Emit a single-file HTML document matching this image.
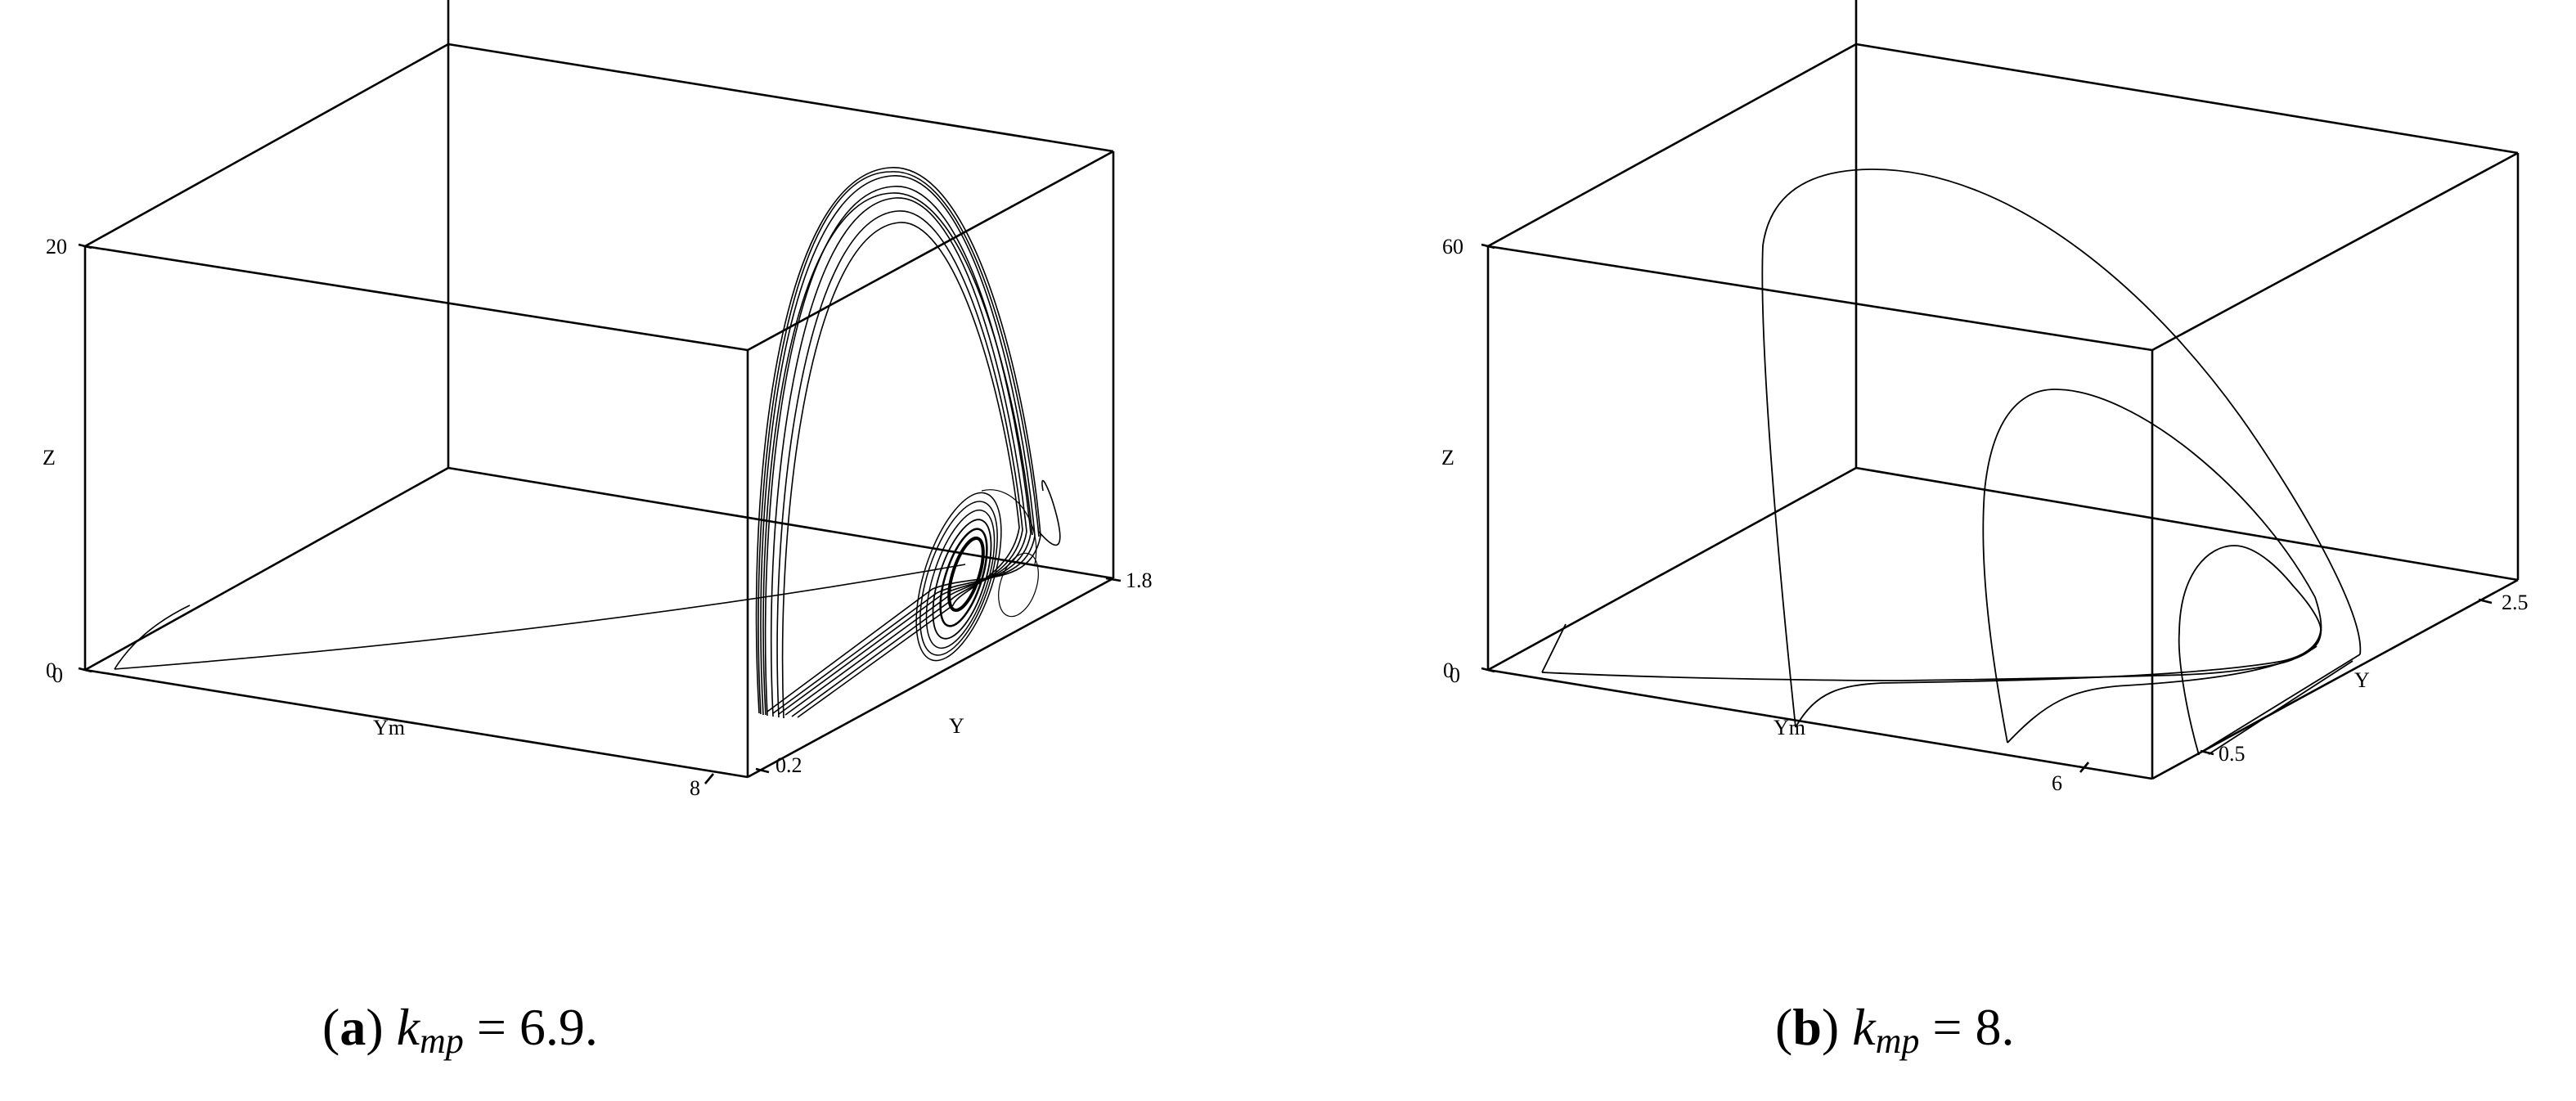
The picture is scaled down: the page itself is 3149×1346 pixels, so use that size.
<!DOCTYPE html>
<html><head><meta charset="utf-8"><style>
html,body{margin:0;padding:0;background:#fff;}
svg{display:block;}
text{font-family:"Liberation Serif",serif;fill:#000;}
</style></head><body>
<svg width="3149" height="1346" viewBox="0 0 3149 1346" xmlns="http://www.w3.org/2000/svg">
<g stroke="#000" stroke-width="2.6" fill="none">
<line x1="104" y1="301" x2="914" y2="428"/>
<line x1="104" y1="301" x2="104" y2="819"/>
<line x1="104" y1="819" x2="914" y2="950"/>
<line x1="914" y1="428" x2="914" y2="950"/>
<line x1="104" y1="301" x2="548" y2="54"/>
<line x1="548" y1="54" x2="1361" y2="185"/>
<line x1="914" y1="428" x2="1361" y2="185"/>
<line x1="1361" y1="185" x2="1361" y2="707"/>
<line x1="548" y1="0" x2="548" y2="572"/>
<line x1="548" y1="572" x2="1361" y2="707"/>
<line x1="104" y1="819" x2="548" y2="572"/>
<line x1="914" y1="950" x2="1361" y2="707"/>
<line x1="96" y1="299" x2="112" y2="303"/>
<line x1="96" y1="817" x2="112" y2="821"/>
<line x1="862" y1="958" x2="872" y2="946"/>
<line x1="924" y1="940" x2="940" y2="944"/>
<line x1="1352" y1="707" x2="1370" y2="710"/>
<line x1="1819" y1="301" x2="2631" y2="428"/>
<line x1="1819" y1="301" x2="1819" y2="819"/>
<line x1="1819" y1="819" x2="2631" y2="952"/>
<line x1="2631" y1="428" x2="2631" y2="952"/>
<line x1="1819" y1="301" x2="2269" y2="54"/>
<line x1="2269" y1="54" x2="3078" y2="187"/>
<line x1="2631" y1="428" x2="3078" y2="187"/>
<line x1="3078" y1="187" x2="3078" y2="709"/>
<line x1="2269" y1="0" x2="2269" y2="572"/>
<line x1="2269" y1="572" x2="3078" y2="709"/>
<line x1="1819" y1="819" x2="2269" y2="572"/>
<line x1="2631" y1="952" x2="3078" y2="709"/>
<line x1="1811" y1="299" x2="1827" y2="303"/>
<line x1="1811" y1="817" x2="1827" y2="821"/>
<line x1="2543" y1="944" x2="2553" y2="932"/>
<line x1="2690" y1="918" x2="2706" y2="922"/>
<line x1="3030" y1="733" x2="3046" y2="737"/>
</g>
<g stroke="#000" fill="none" stroke-width="1.6">
<path d="M140 818 Q700 775 1180 690"/>
<path d="M140 818 Q170 770 232 740"/>
<path d="M928 872 C912 600 950 215 1088 205 C1195 197 1258 490 1272 655 C1260 720 1190 700 1140 720 L938 870"/>
<path d="M933 874 C918 600 958 225 1090 215 C1190 207 1250 490 1265 655 C1255 715 1185 705 1145 725 L945 872"/>
<path d="M938 875 C925 610 965 235 1092 228 C1185 220 1244 490 1260 652 C1250 712 1180 710 1150 728 L952 873"/>
<path d="M945 876 C932 615 975 250 1095 242 C1180 236 1238 490 1255 650 C1245 710 1178 712 1155 732 L960 874"/>
<path d="M952 877 C940 620 985 265 1098 258 C1175 252 1234 490 1250 648 C1240 708 1175 716 1160 736 L968 876"/>
<path d="M958 878 C948 625 992 280 1100 272 C1170 268 1230 490 1246 645 C1236 705 1172 720 1165 740 L975 877"/>
<path d="M930 873 C915 605 955 210 1089 210 C1193 203 1255 495 1270 656"/>
<path d="M936 874 C921 605 962 240 1091 236 C1186 232 1247 495 1262 654"/>
<path d="M1275 600 C1265 540 1330 720 1270 650"/>
</g>
<g stroke="#000" fill="none">
<ellipse cx="1172" cy="705" rx="42" ry="107" transform="rotate(18 1172 705)" stroke-width="1.5"/>
<ellipse cx="1172" cy="707" rx="38" ry="98" transform="rotate(18 1172 707)" stroke-width="1.5"/>
<ellipse cx="1174" cy="708" rx="33" ry="88" transform="rotate(18 1174 708)" stroke-width="1.5"/>
<ellipse cx="1176" cy="708" rx="28" ry="76" transform="rotate(18 1176 708)" stroke-width="1.8"/>
<ellipse cx="1178" cy="706" rx="22" ry="62" transform="rotate(18 1178 706)" stroke-width="2.5"/>
<ellipse cx="1181" cy="702" rx="16" ry="46" transform="rotate(18 1181 702)" stroke-width="4"/>
<ellipse cx="1245" cy="715" rx="22" ry="40" transform="rotate(18 1245 715)" stroke-width="1.2"/>
<path d="M1200 600 C1240 590 1275 640 1265 690" stroke-width="1.2"/>
</g>
<g stroke="#000" fill="none" stroke-width="1.8">
<path d="M2195 889 C2175 700 2150 420 2155 300 C2165 230 2220 207 2290 207 C2460 207 2640 360 2760 540 C2840 660 2890 760 2885 800"/>
<path d="M2885 800 L2693 918"/>
<path d="M2876 808 L2700 922"/>
<path d="M2454 908 C2430 780 2420 680 2426 600 C2435 510 2470 476 2512 476 C2610 476 2760 600 2830 730 C2840 760 2840 780 2830 790"/>
<path d="M2688 923 C2670 860 2662 800 2664 773 C2665 700 2700 667 2731 667 C2760 667 2790 700 2803 716 C2825 740 2837 760 2837 770 C2835 790 2815 805 2780 810"/>
<path d="M1885 822 C2050 830 2250 832 2323 832 C2500 830 2600 827 2669 825 C2740 822 2790 812 2803 806 C2820 800 2830 792 2832 785"/>
<path d="M1885 822 L1914 763"/>
<path d="M2195 889 C2220 845 2250 838 2300 835 C2500 832 2700 826 2803 806"/>
<path d="M2454 908 C2500 860 2530 842 2600 838 C2700 832 2790 820 2832 790"/>
</g>
<g font-size="26">
<text x="56" y="310">20</text>
<text x="52" y="568">Z</text>
<text x="56" y="828">0</text>
<text x="64" y="834">0</text>
<text x="456" y="898">Ym</text>
<text x="843" y="972">8</text>
<text x="948" y="944">0.2</text>
<text x="1160" y="896">Y</text>
<text x="1376" y="718">1.8</text>
<text x="1763" y="310">60</text>
<text x="1762" y="568">Z</text>
<text x="1764" y="828">0</text>
<text x="1772" y="834">0</text>
<text x="2168" y="898">Ym</text>
<text x="2508" y="966">6</text>
<text x="2712" y="930">0.5</text>
<text x="2878" y="840">Y</text>
<text x="3058" y="745">2.5</text>
</g>
<g font-size="64">
<text x="394" y="1277">(<tspan font-weight="bold">a</tspan>) <tspan font-style="italic">k</tspan><tspan font-style="italic" font-size="44" dy="10">mp</tspan><tspan dy="-10"> = 6.9.</tspan></text>
<text x="2170" y="1277">(<tspan font-weight="bold">b</tspan>) <tspan font-style="italic">k</tspan><tspan font-style="italic" font-size="44" dy="10">mp</tspan><tspan dy="-10"> = 8.</tspan></text>
</g>
</svg>
</body></html>
